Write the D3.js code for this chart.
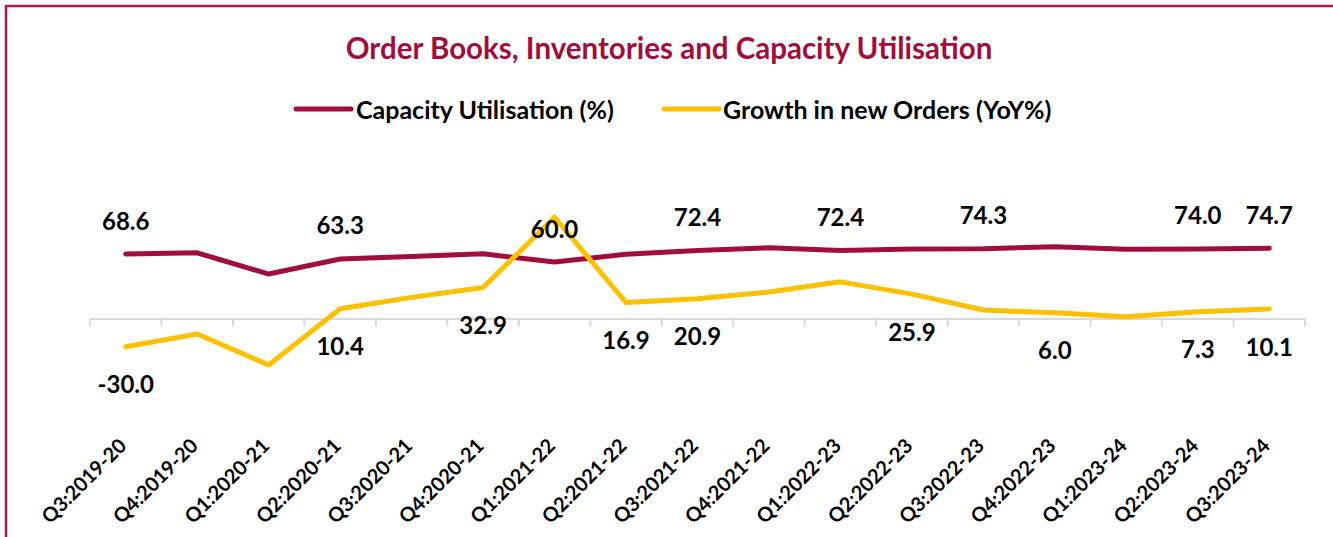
<!DOCTYPE html>
<html>
<head>
<meta charset="utf-8">
<script src="https://cdn.jsdelivr.net/npm/d3@7/dist/d3.min.js"></script>
<style>
  html, body { margin: 0; padding: 0; background: #fff; }
  svg { display: block; }
  text { font-family: Lato, "Open Sans", sans-serif; font-weight: 700; }
</style>
</head>
<body>
<svg id="chart" width="1333" height="537"></svg>
<script>
// ---- Data ----
const categories = ["Q3:2019-20","Q4:2019-20","Q1:2020-21","Q2:2020-21","Q3:2020-21","Q4:2020-21",
  "Q1:2021-22","Q2:2021-22","Q3:2021-22","Q4:2021-22","Q1:2022-23","Q2:2022-23","Q3:2022-23",
  "Q4:2022-23","Q1:2023-24","Q2:2023-24","Q3:2023-24"];
const capacityUtilisation = [68.6, 69.9, 47.3, 63.3, 66.0, 68.8, 60.0, 68.4, 72.4, 75.3, 72.4, 74.0, 74.3, 76.3, 73.6, 74.0, 74.7];
const growthNewOrders = [-30.0, -16.5, -49.5, 10.4, 22.5, 32.9, 107.7, 16.9, 20.9, 28.2, 39.0, 25.9, 9.0, 6.0, 1.9, 7.3, 10.1];
const capacityLabelIdx = [0, 3, 6, 8, 10, 12, 15, 16];
const growthLabelIdx = [0, 3, 5, 7, 8, 11, 13, 15, 16];
const seriesNames = ["Capacity Utilisation (%)", "Growth in new Orders (YoY%)"];
const titleText = "Order Books, Inventories and Capacity Utilisation";

const maroon = "#A20E3C";
const yellow = "#FFC000";

const svg = d3.select("#chart");

// frame
svg.append("line").attr("x1", 6).attr("x2", 1333).attr("y1", 6).attr("y2", 6)
  .attr("stroke", "#B3184A").attr("stroke-width", 2.5);
svg.append("line").attr("x1", 6).attr("x2", 6).attr("y1", 5).attr("y2", 537)
  .attr("stroke", "#B3184A").attr("stroke-width", 2.5);

// title
svg.append("text").attr("x", 669).attr("y", 47).attr("text-anchor", "middle")
  .attr("dominant-baseline", "central").attr("fill", maroon).attr("font-size", 29.5)
  .text(titleText);

// scales
const x = d3.scaleBand().domain(categories).range([90, 1305]).padding(0);
const cx = c => x(c) + x.bandwidth() / 2;
const y = d3.scaleLinear().domain([-60, 120]).range([374.9, 205.7]);

// axis line with ticks at band boundaries
const axisG = svg.append("g").attr("transform", `translate(0,${y(0)})`);
const xAxis = d3.axisBottom(x).tickSize(0).tickFormat("");
axisG.call(xAxis);
axisG.select(".domain").attr("stroke", "#D9D9D9").attr("stroke-width", 2);
const bounds = categories.map(c => x(c)).concat([x(categories[categories.length - 1]) + x.bandwidth()]);
axisG.selectAll("line.bt").data(bounds).enter().append("line").attr("class", "bt")
  .attr("x1", d => d).attr("x2", d => d).attr("y1", 0).attr("y2", 8)
  .attr("stroke", "#D9D9D9").attr("stroke-width", 2);

// x labels
svg.append("g").selectAll("text").data(categories).enter().append("text")
  .attr("transform", d => `translate(${cx(d) + 2},${447}) rotate(-45)`)
  .attr("text-anchor", "end").attr("font-size", 20).attr("fill", "#000")
  .text(d => d);

// lines
const lineGen = d3.line().x((d, i) => cx(categories[i])).y(d => y(d));
svg.append("path").datum(capacityUtilisation).attr("d", lineGen)
  .attr("fill", "none").attr("stroke", maroon).attr("stroke-width", 5)
  .attr("stroke-linejoin", "round").attr("stroke-linecap", "round");
svg.append("path").datum(growthNewOrders).attr("d", lineGen)
  .attr("fill", "none").attr("stroke", yellow).attr("stroke-width", 5)
  .attr("stroke-linejoin", "round").attr("stroke-linecap", "round");

// data labels
svg.append("g").selectAll("text").data(capacityLabelIdx).enter().append("text")
  .attr("x", i => cx(categories[i])).attr("y", i => y(capacityUtilisation[i]) - 34)
  .attr("text-anchor", "middle").attr("dominant-baseline", "central")
  .attr("font-size", 24).attr("fill", "#000")
  .text(i => capacityUtilisation[i].toFixed(1));
svg.append("g").selectAll("text").data(growthLabelIdx).enter().append("text")
  .attr("x", i => cx(categories[i])).attr("y", i => y(growthNewOrders[i]) + 37)
  .attr("text-anchor", "middle").attr("dominant-baseline", "central")
  .attr("font-size", 24).attr("fill", "#000")
  .text(i => growthNewOrders[i].toFixed(1));

// legend
const legend = [
  { name: seriesNames[0], color: maroon, x1: 296, x2: 351, tx: 356 },
  { name: seriesNames[1], color: yellow, x1: 664, x2: 719, tx: 723 }
];
const lg = svg.append("g");
legend.forEach(l => {
  lg.append("line").attr("x1", l.x1).attr("x2", l.x2).attr("y1", 109).attr("y2", 109)
    .attr("stroke", l.color).attr("stroke-width", 5).attr("stroke-linecap", "round");
  lg.append("text").attr("x", l.tx).attr("y", 109).attr("dominant-baseline", "central")
    .attr("font-size", 25).attr("fill", "#000").text(l.name);
});
</script>
</body>
</html>
